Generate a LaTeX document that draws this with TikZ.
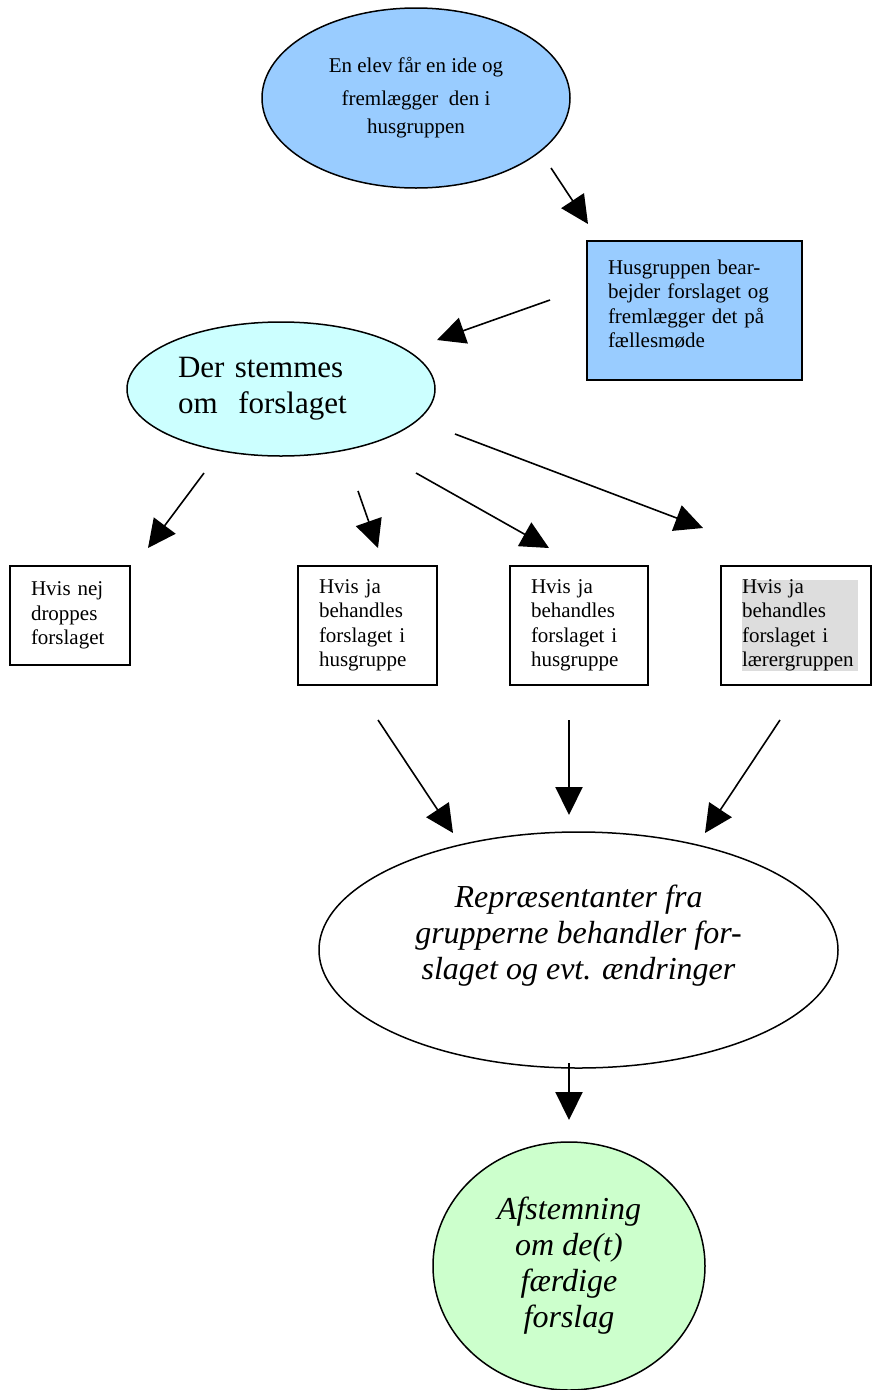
\documentclass[tikz,border=0pt]{standalone}
\usepackage{fontspec}
\setmainfont{Liberation Serif}
\usetikzlibrary{shapes.geometric,arrows.meta}
\definecolor{ideablue}{HTML}{99CCFF}
\definecolor{votecyan}{HTML}{CCFFFF}
\definecolor{finalgreen}{HTML}{CCFFCC}
\definecolor{hlgray}{HTML}{DDDDDD}
\setlength{\fboxsep}{0pt}
\newcommand{\smalltext}{\fontsize{21}{24.5}\selectfont}
\newcommand{\bigtext}{\fontsize{31}{36}\selectfont}
\tikzset{%
  bubble/.style={draw,shape=ellipse,inner sep=0pt,line width=1.5pt},
  pbox/.style={draw,shape=rectangle,line width=1.3pt,inner xsep=21pt,inner ysep=0pt,align=left,font=\smalltext},
  flow/.style={line width=1.6pt,-{Triangle[length=28pt,width=27pt]}}
}
\begin{document}
\begin{tikzpicture}[x=1pt,y=-1pt]
    \useasboundingbox (0,0) rectangle (872,1390);
    \path
      (416,98) node (idea)[bubble,fill=ideablue,minimum width=308,minimum height=180,
        align=center,font=\fontsize{21}{28}\selectfont]
        {En elev får en ide og\\[5pt]fremlægger\ \ den i\\husgruppen}
      (694.5,310.5) node (husbox)[pbox,fill=ideablue,text width=173,minimum height=139]
        {Husgruppen bear-\\bejder forslaget og\\fremlægger det på\\fællesmøde\rule[-14pt]{0pt}{14pt}}
      (281,389) node (vote)[bubble,fill=votecyan,minimum width=308,minimum height=134,
        text width=206,align=left,font=\bigtext]
        {Der stemmes\\om\ \ forslaget}
      (70,615.5) node (nej)[pbox,text width=78,minimum height=99]
        {Hvis nej\\droppes\\forslaget}
      (367.5,625.5) node (ja1)[pbox,text width=97,minimum height=119]
        {Hvis ja\\behandles\\forslaget i\\husgruppe}
      (579,625.5) node (ja2)[pbox,text width=96,minimum height=119]
        {Hvis ja\\behandles\\forslaget i\\husgruppe}
      (796,625.5) node (ja3)[pbox,text width=108,minimum height=119]
        {\colorbox{hlgray}{\parbox{116pt}{Hvis ja\\behandles\\forslaget i\\lærergruppen}}}
      (578.5,950) node (rep)[bubble,fill=white,minimum width=519,minimum height=236,
        align=center,font=\fontsize{32}{36}\selectfont\itshape]
        {Repræsentanter fra\\grupperne behandler for-\\slaget og evt. ændringer\rule[-35pt]{0pt}{35pt}}
      (569,1266) node (final)[bubble,fill=finalgreen,minimum width=272,minimum height=248,
        align=center,font=\fontsize{32}{36}\selectfont\itshape]
        {Afstemning\\om de(t)\\færdige\\forslag};
    % loose arrow ends
    \path
      (551,168) coordinate (a1s)   (588,224) coordinate (a1e)
      (550,300) coordinate (a2s)   (437,340) coordinate (a2e)
      (204,473) coordinate (a3s)   (148,548) coordinate (a3e)
      (358,491) coordinate (a4s)   (378,548) coordinate (a4e)
      (416,473) coordinate (a5s)   (549,548) coordinate (a5e)
      (455,434) coordinate (a6s)   (703,528) coordinate (a6e)
      (378,720) coordinate (a7s)   (453,833) coordinate (a7e)
      (569,720) coordinate (a8s)   (569,815) coordinate (a8e)
      (780,720) coordinate (a9s)   (705,833) coordinate (a9e)
      (569,1063) coordinate (a10s) (569,1120) coordinate (a10e);
    \draw[flow] (a1s) -- (a1e);
    \draw[flow] (a2s) -- (a2e);
    \draw[flow] (a3s) -- (a3e);
    \draw[flow] (a4s) -- (a4e);
    \draw[flow] (a5s) -- (a5e);
    \draw[flow] (a6s) -- (a6e);
    \draw[flow] (a7s) -- (a7e);
    \draw[flow,line width=2.2pt] (a8s) -- (a8e);
    \draw[flow] (a9s) -- (a9e);
    \draw[flow,line width=2.2pt] (a10s) -- (a10e);
  \end{tikzpicture}
\end{document}
